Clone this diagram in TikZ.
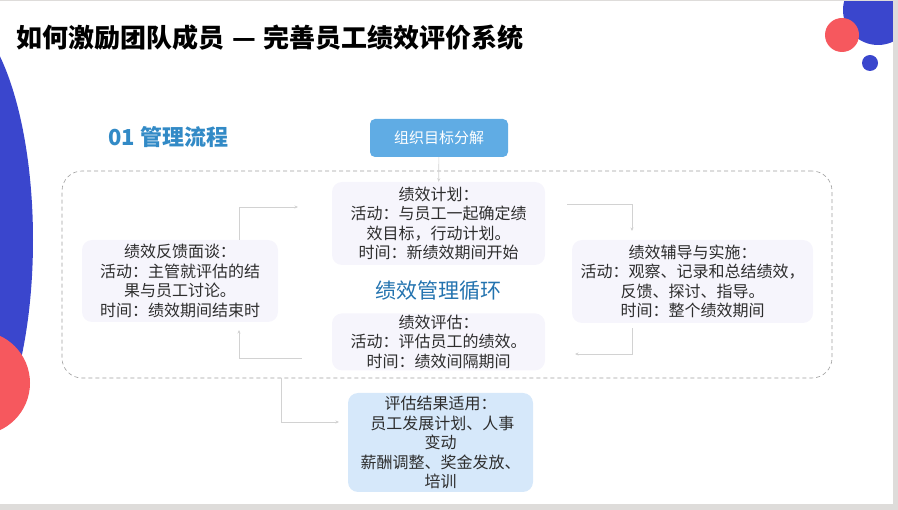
\documentclass[tikz,border=0pt]{standalone}
\usepackage{fontspec}
\setmainfont{Noto Sans CJK SC}
\usetikzlibrary{positioning, arrows.meta, calc}
\definecolor{deckblue}{RGB}{58,70,205}
\definecolor{deckred}{RGB}{246,88,94}
\definecolor{headblue}{RGB}{50,138,198}
\definecolor{cycleblue}{RGB}{35,115,175}
\definecolor{orgfill}{RGB}{96,172,228}
\definecolor{cardfill}{RGB}{246,245,252}
\definecolor{usefill}{RGB}{214,232,250}
\definecolor{txt}{RGB}{45,45,45}
\definecolor{linkgray}{RGB}{210,210,210}
\definecolor{edgegray}{RGB}{222,220,218}

\begin{document}
\begin{tikzpicture}[
  x=1pt, y=-1pt,
  >={Stealth[length=3.5pt,width=3pt]},
  every node/.style={font=\fontsize{16}{19.5}\selectfont, text=txt},
  card/.style      = {align=center, rounded corners=10pt, fill=cardfill, inner sep=1pt},
  usecard/.style   = {card, fill=usefill},
  orgbox/.style    = {align=center, rounded corners=5pt, fill=orgfill, text=white, font=\fontsize{15}{18}\selectfont, minimum width=138pt, minimum height=38pt},
  cycleframe/.style= {draw=gray!75, dash pattern=on 4pt off 3pt, rounded corners=20pt, line width=0.6pt},
  link/.style      = {->, draw=linkgray, line width=0.7pt},
  heading/.style   = {font=\bfseries\fontsize{22}{26}\selectfont, text=headblue, anchor=west},
]
  \useasboundingbox (0,0) rectangle (898,510);
  % slide decoration
  \begin{scope}
    \clip (0,0) rectangle (898,510);
    \fill[deckblue] (-50,240) ellipse [x radius=83, y radius=230];
    \fill[deckred] (-22,383) circle [radius=52];
    \fill[deckblue] (878,10) circle [radius=35];
    \fill[deckred] (842,35) circle [radius=17];
    \fill[deckblue] (870,63) circle [radius=8];
    \fill[edgegray] (893,0) rectangle (898,510);
    \fill[edgegray] (0,504) rectangle (898,510);
    \draw[edgegray] (0,0.5) -- (898,0.5);
  \end{scope}

  \node[font=\bfseries\fontsize{26}{30}\selectfont, text=black, anchor=west, inner sep=0pt] (title) at (16,38)
    {如何激励团队成员\hspace{8pt}—\hspace{8pt}完善员工绩效评价系统};
  \node[heading, inner sep=0pt] (sec) at (108,137) {01 管理流程};

  \node[cycleframe, minimum width=770pt, minimum height=207pt] (loop) at (447,274.5) {};
  \node[orgbox] (org) at (439,138) {组织目标分解};
  \node[card, minimum width=213pt, minimum height=83pt] (plan) at (438.5,223.5)
    {绩效计划：\\活动：与员工一起确定绩\\效目标，行动计划。\\时间：新绩效期间开始};
  \node[card, minimum width=213pt, minimum height=57pt, below=48pt of plan] (eval)
    {绩效评估：\\活动：评估员工的绩效。\\时间：绩效间隔期间};
  \node[card, minimum width=196pt, minimum height=82pt] (fb) at (180,281)
    {绩效反馈面谈：\\活动：主管就评估的结\\果与员工讨论。\\时间：绩效期间结束时};
  \node[card, minimum width=241pt, minimum height=83pt] (coach) at (692.5,281.5)
    {绩效辅导与实施：\\活动：观察、记录和总结绩效，\\反馈、探讨、指导。\\时间：整个绩效期间};
  \node[font=\fontsize{21}{24}\selectfont, text=cycleblue] (cyc) at (438.5,291) {绩效管理循环};
  \node[usecard, minimum width=185pt, minimum height=99pt] (use) at (440.5,442.5)
    {评估结果适用：\\\ 员工发展计划、人事\\变动\\薪酬调整、奖金发放、\\培训};

  \coordinate (toplan)  at (298,207);
  \coordinate (tocoach) at (632,231);
  \coordinate (toeval)  at (575,354);
  \coordinate (tofb)    at (239,330);
  \coordinate (touse)   at (339,422);

  \draw[link] (org) -- (plan);
  \draw[link] ([xshift=59pt]fb.north) |- (toplan);
  \draw[link, shorten <=22pt] (plan.east |- 0,204) -| (tocoach);
  \draw[link, shorten <=5pt] (coach.south -| tocoach) |- (toeval);
  \draw[link, shorten <=30pt] (eval.west |- 0,358) -| (tofb);
  \draw[link] (loop.south -| 281,0) |- (touse);
\end{tikzpicture}
\end{document}
